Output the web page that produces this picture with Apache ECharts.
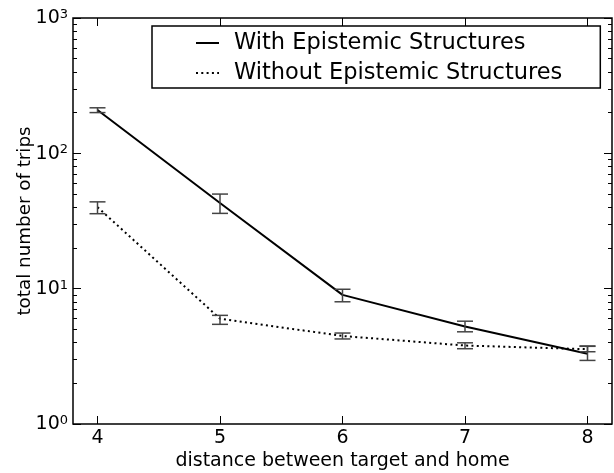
<!DOCTYPE html>
<html>
<head>
<meta charset="utf-8">
<script src="https://cdn.jsdelivr.net/npm/echarts@6/dist/echarts.min.js"></script>
<style>
html,body{margin:0;padding:0;background:#fff;}
#chart{width:614px;height:473px;}
</style>
</head>
<body>
<div id="chart"></div>
<script>
// ---- data ----
const xValues = [4, 5, 6, 7, 8];
const withName = 'With Epistemic Structures';
const withMean = [209, 43, 9.0, 5.25, 3.3];
const withLow = [200, 36, 8.0, 4.8, 2.95];
const withHigh = [217, 50, 9.9, 5.75, 3.75];
const withoutName = 'Without Epistemic Structures';
const withoutMean = [40, 6.0, 4.47, 3.8, 3.57];
const withoutLow = [35.8, 5.45, 4.25, 3.6, 3.42];
const withoutHigh = [43.8, 6.35, 4.7, 3.98, 3.77];
const xTickValues = [4, 5, 6, 7, 8];
const yMajorValues = [1, 10, 100, 1000];
const yMajorExponents = ['0', '1', '2', '3'];
const yMinorValues = [2,3,4,5,6,7,8,9,20,30,40,50,60,70,80,90,200,300,400,500,600,700,800,900];
const xTitle = 'distance between target and home';
const yTitle = 'total number of trips';

const FONT = 'DejaVu Sans';

function pairs(xs, ys) { return xs.map((x, i) => [x, ys[i]]); }
function errData(xs, lo, hi) { return xs.map((x, i) => [x, lo[i], hi[i]]); }

function errRender(params, api) {
  const x = api.value(0);
  const p1 = api.coord([x, api.value(1)]);
  const p2 = api.coord([x, api.value(2)]);
  const hw = 8;
  const style = { stroke: '#444', lineWidth: 1.5, fill: null };
  return {
    type: 'group',
    children: [
      { type: 'line', shape: { x1: p1[0], y1: p1[1], x2: p2[0], y2: p2[1] }, style: style },
      { type: 'line', shape: { x1: p1[0] - hw, y1: p1[1], x2: p1[0] + hw, y2: p1[1] }, style: style },
      { type: 'line', shape: { x1: p2[0] - hw, y1: p2[1], x2: p2[0] + hw, y2: p2[1] }, style: style }
    ]
  };
}

const chart = echarts.init(document.getElementById('chart'), null, { renderer: 'canvas' });

const yBase = { type: 'log', logBase: 10, min: 1, max: 1000, gridIndex: 0, splitLine: { show: false } };

const option = {
  animation: false,
  backgroundColor: '#fff',
  textStyle: { fontFamily: FONT },
  grid: { left: 73, right: 2, top: 18, bottom: 49, show: true, borderColor: '#000', borderWidth: 1.5, backgroundColor: 'transparent', containLabel: false, outerBoundsMode: 'none' },
  legend: {
    orient: 'vertical',
    left: 152,
    top: 26,
    padding: [5.5, 38, 3.5, 43],
    itemWidth: 23,
    itemHeight: 14,
    itemGap: 7,
    borderColor: '#000',
    borderWidth: 1.5,
    backgroundColor: '#fff',
    borderRadius: 0,
    itemStyle: { opacity: 0 },
    textStyle: { fontFamily: FONT, fontSize: 22.5, color: '#000', padding: [0, 0, 0, 10] },
    data: [withName, withoutName]
  },
  xAxis: [
    {
      type: 'value', min: 3.8, max: 8.2, position: 'bottom', gridIndex: 0,
      splitLine: { show: false },
      axisLine: { show: false },
      axisTick: { show: true, inside: true, length: 8, customValues: xTickValues, lineStyle: { color: '#000', width: 1 } },
      axisLabel: { show: true, customValues: xTickValues, margin: 5, fontFamily: FONT, fontSize: 19, color: '#000' },
      name: xTitle, nameLocation: 'middle', nameGap: 28, nameMoveOverlap: false,
      nameTextStyle: { fontFamily: FONT, fontSize: 19, color: '#000' }
    },
    {
      type: 'value', min: 3.8, max: 8.2, position: 'top', gridIndex: 0,
      splitLine: { show: false },
      axisLine: { show: false },
      axisTick: { show: true, inside: true, length: 8, customValues: xTickValues, lineStyle: { color: '#000', width: 1 } },
      axisLabel: { show: false }
    }
  ],
  yAxis: [
    Object.assign({}, yBase, {
      position: 'left',
      axisLine: { show: false },
      axisTick: { show: true, inside: true, length: 8, customValues: yMajorValues, lineStyle: { color: '#000', width: 1 } },
      axisLabel: {
        show: true, customValues: yMajorValues, margin: 5,
        formatter: function (v) {
          const i = yMajorValues.indexOf(v);
          const e = i >= 0 ? yMajorExponents[i] : String(Math.round(Math.log10(v)));
          return '{b|10}{s|' + e + '}';
        },
        rich: {
          b: { fontFamily: FONT, fontSize: 19, color: '#000', lineHeight: 20, verticalAlign: 'bottom' },
          s: { fontFamily: FONT, fontSize: 13, color: '#000', lineHeight: 20, verticalAlign: 'top', padding: [0, 0, 6, 0] }
        }
      },
      name: yTitle, nameLocation: 'middle', nameGap: 39, nameMoveOverlap: false,
      nameTextStyle: { fontFamily: FONT, fontSize: 18.3, color: '#000' }
    }),
    Object.assign({}, yBase, {
      position: 'left',
      axisLine: { show: false },
      axisTick: { show: true, inside: true, length: 4, customValues: yMinorValues, lineStyle: { color: '#000', width: 1 } },
      axisLabel: { show: false }
    }),
    Object.assign({}, yBase, {
      position: 'right',
      axisLine: { show: false },
      axisTick: { show: true, inside: true, length: 8, customValues: yMajorValues, lineStyle: { color: '#000', width: 1 } },
      axisLabel: { show: false }
    }),
    Object.assign({}, yBase, {
      position: 'right',
      axisLine: { show: false },
      axisTick: { show: true, inside: true, length: 4, customValues: yMinorValues, lineStyle: { color: '#000', width: 1 } },
      axisLabel: { show: false }
    })
  ],
  series: [
    {
      name: withName, type: 'line', xAxisIndex: 0, yAxisIndex: 0,
      data: pairs(xValues, withMean),
      symbol: 'none',
      lineStyle: { color: '#000', width: 2, type: 'solid' },
      itemStyle: { color: '#000' },
      z: 3
    },
    {
      name: withoutName, type: 'line', xAxisIndex: 0, yAxisIndex: 0,
      data: pairs(xValues, withoutMean),
      symbol: 'none',
      lineStyle: { color: '#000', width: 2, type: [2, 3.3] },
      itemStyle: { color: '#000' },
      z: 3
    },
    {
      name: 'err-with', type: 'custom', xAxisIndex: 0, yAxisIndex: 0,
      data: errData(xValues, withLow, withHigh),
      renderItem: errRender, z: 4, silent: true
    },
    {
      name: 'err-without', type: 'custom', xAxisIndex: 0, yAxisIndex: 0,
      data: errData(xValues, withoutLow, withoutHigh),
      renderItem: errRender, z: 4, silent: true
    }
  ]
};

chart.setOption(option);
</script>
</body>
</html>
